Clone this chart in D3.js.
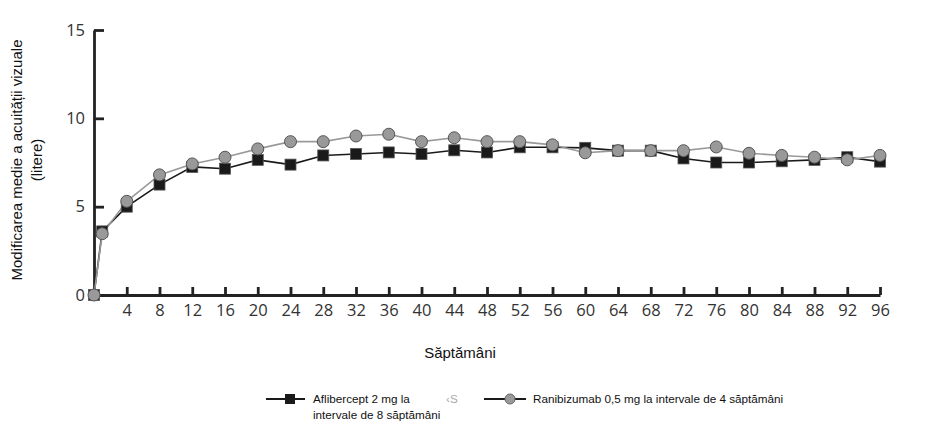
<!DOCTYPE html>
<html>
<head>
<meta charset="utf-8">
<script src="https://d3js.org/d3.v7.min.js"></script>
<style>
  body { margin: 0; background: #fff; font-family: Arial, "Liberation Sans", sans-serif; }
  .tick text { font-family: "Open Sans", sans-serif; font-size: 16.5px; fill: #333; }
  .axis path, .axis line { stroke: #222; stroke-width: 2.8px; }
</style>
</head>
<body>
<div id="chart"></div>
<script>
var weeks = [0, 1, 4, 8, 12, 16, 20, 24, 28, 32, 36, 40, 44, 48, 52, 56, 60, 64, 68, 72, 76, 80, 84, 88, 92, 96];
var aflibercept = [0, 3.6, 5.0, 6.25, 7.25, 7.15, 7.65, 7.38, 7.9, 7.98, 8.07, 7.98, 8.19, 8.07, 8.36, 8.36, 8.33, 8.17, 8.17, 7.73, 7.5, 7.5, 7.57, 7.65, 7.8, 7.55];
var ranibizumab = [0, 3.47, 5.3, 6.8, 7.42, 7.8, 8.27, 8.68, 8.68, 9.0, 9.1, 8.68, 8.9, 8.68, 8.68, 8.5, 8.05, 8.17, 8.17, 8.17, 8.38, 8.02, 7.9, 7.8, 7.65, 7.9];
var xTicks = [4, 8, 12, 16, 20, 24, 28, 32, 36, 40, 44, 48, 52, 56, 60, 64, 68, 72, 76, 80, 84, 88, 92, 96];
var yTicks = [0, 5, 10, 15];
var seriesNames = ["Aflibercept 2 mg la", "intervale de 8 săptămâni", "Ranibizumab 0,5 mg la intervale de 4 săptămâni"];

var W = 928, H = 426;
var svg = d3.select("#chart").append("svg").attr("width", W).attr("height", H);

var x = d3.scaleLinear().domain([0, 96]).range([94, 880]);
var y = d3.scaleLinear().domain([0, 15]).range([295, 30]);

svg.append("g")
  .attr("class", "axis")
  .attr("transform", "translate(0,295)")
  .call(d3.axisBottom(x).tickValues(xTicks).tickSize(-8).tickSizeOuter(0).tickPadding(9));

svg.append("g")
  .attr("class", "axis")
  .attr("transform", "translate(94,0)")
  .call(d3.axisLeft(y).tickValues(yTicks).tickSize(-10).tickSizeOuter(0).tickPadding(9));

// y axis title
var yt = svg.append("text")
  .attr("transform", "translate(22,160) rotate(-90)")
  .attr("text-anchor", "middle")
  .style("font-size", "15px")
  .style("fill", "#111");
yt.append("tspan").attr("x", 0).attr("dy", 0).text("Modificarea medie a acuității vizuale");
yt.append("tspan").attr("x", 0).attr("dy", 20).text("(litere)");

svg.append("text")
  .attr("x", 460).attr("y", 358)
  .attr("text-anchor", "middle")
  .style("font-size", "15px")
  .style("fill", "#111")
  .text("Săptămâni");

var line = d3.line()
  .x(function(d) { return x(d[0]); })
  .y(function(d) { return y(d[1]); });

var aData = weeks.map(function(w, i) { return [w, aflibercept[i]]; });
var rData = weeks.map(function(w, i) { return [w, ranibizumab[i]]; });

svg.append("path").datum(aData)
  .attr("d", line).attr("fill", "none")
  .attr("stroke", "#1a1a1a").attr("stroke-width", 1.6);

svg.append("path").datum(rData)
  .attr("d", line).attr("fill", "none")
  .attr("stroke", "#999").attr("stroke-width", 1.6);

svg.selectAll(".sq").data(aData).enter().append("rect")
  .attr("class", "sq")
  .attr("x", function(d) { return x(d[0]) - 5.5; })
  .attr("y", function(d) { return y(d[1]) - 5.5; })
  .attr("width", 11).attr("height", 11)
  .attr("fill", "#1a1a1a").attr("stroke", "#555").attr("stroke-width", 0.8);

svg.selectAll(".ci").data(rData).enter().append("circle")
  .attr("class", "ci")
  .attr("cx", function(d) { return x(d[0]); })
  .attr("cy", function(d) { return y(d[1]); })
  .attr("r", 6)
  .attr("fill", "#999").attr("stroke", "#555").attr("stroke-width", 1);

// legend
var lg = svg.append("g");
lg.append("line").attr("x1", 266).attr("x2", 305).attr("y1", 399).attr("y2", 399)
  .attr("stroke", "#1a1a1a").attr("stroke-width", 2);
lg.append("rect").attr("x", 285).attr("y", 394).attr("width", 10).attr("height", 10)
  .attr("fill", "#1a1a1a");
lg.append("text").attr("x", 313).attr("y", 403).style("font-size", "11.7px").style("fill", "#111").text(seriesNames[0]);
lg.append("text").attr("x", 313).attr("y", 419).style("font-size", "11.7px").style("fill", "#111").text(seriesNames[1]);
lg.append("text").attr("x", 446).attr("y", 403).style("font-size", "11.7px").style("fill", "#aaa").text("‹S");

lg.append("line").attr("x1", 484).attr("x2", 526).attr("y1", 399).attr("y2", 399)
  .attr("stroke", "#1a1a1a").attr("stroke-width", 2);
lg.append("circle").attr("cx", 510).attr("cy", 399).attr("r", 5)
  .attr("fill", "#999").attr("stroke", "#666").attr("stroke-width", 1);
lg.append("text").attr("x", 533).attr("y", 403).style("font-size", "11.7px").style("fill", "#111").text(seriesNames[2]);
</script>
</body>
</html>
